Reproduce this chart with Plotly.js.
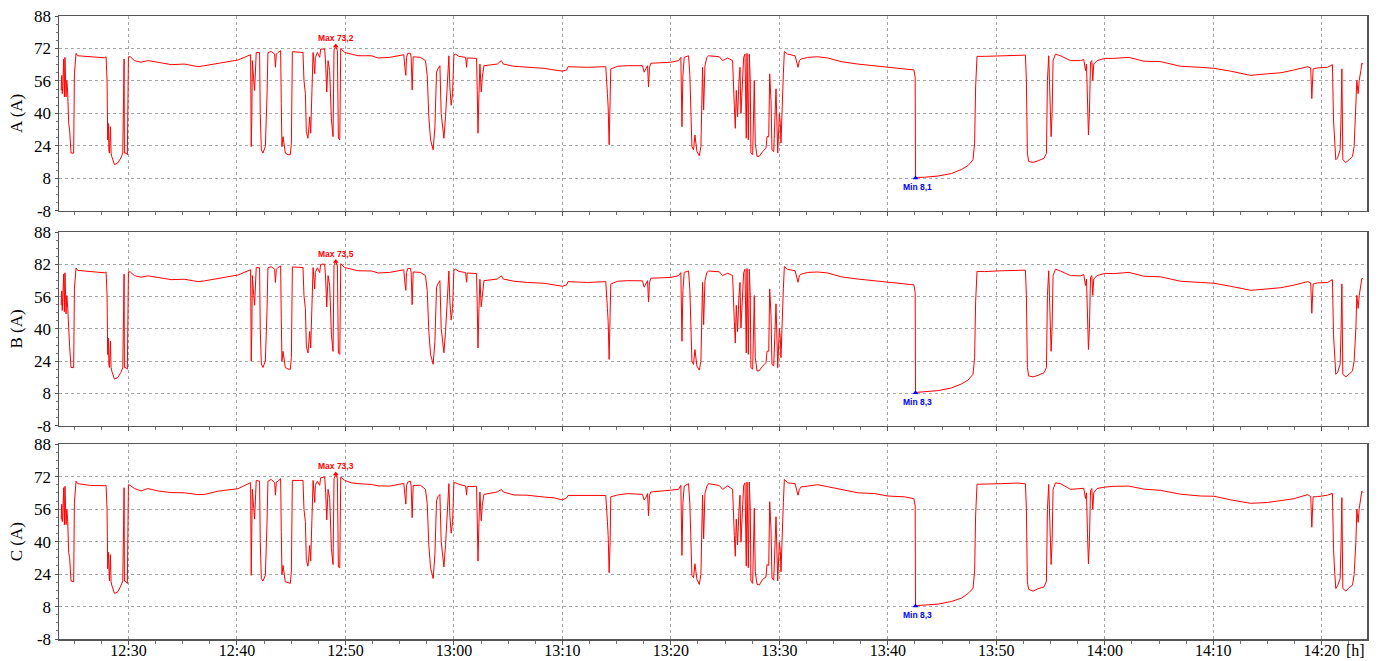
<!DOCTYPE html>
<html><head><meta charset="utf-8">
<script src="https://cdn.plot.ly/plotly-3.0.1.min.js"></script>
<style>html,body{margin:0;padding:0;background:#fff}#chart{width:1383px;height:661px}</style>
</head><body><div id="chart"></div>
<script>
// time of each sample, minutes after 12:00
const minutesAfterNoon = [
23.80,23.85,23.90,23.95,24.03,24.10,24.15,24.25,24.32,24.40,
24.49,24.58,24.71,24.95,25.02,25.17,25.32,26.50,27.78,27.94,
28.03,28.09,28.15,28.20,28.25,28.30,28.34,28.40,28.46,28.71,
29.02,29.30,29.48,29.55,29.60,29.63,29.78,29.90,29.96,30.00,
30.18,30.55,31.17,31.78,32.71,33.94,35.17,36.40,37.02,38.25,
40.09,41.26,41.32,41.38,41.42,41.55,41.63,41.78,42.09,42.15,
42.25,42.40,42.62,42.77,42.86,43.17,43.48,43.55,43.63,43.78,
44.03,44.09,44.15,44.25,44.34,44.46,44.71,44.92,45.02,45.11,
46.09,46.18,46.31,46.40,46.55,46.71,46.80,46.92,47.02,47.17,
47.23,47.42,47.63,47.72,48.09,48.18,48.28,48.40,48.55,48.71,
48.86,48.95,49.11,49.26,49.35,49.48,49.57,49.94,50.55,51.17,
52.40,53.02,54.09,
55.38,55.48,55.57,55.63,55.75,56.00,56.06,56.15,56.25,56.92,
57.38,57.54,57.69,57.85,58.09,58.25,58.40,58.52,58.71,58.83,
59.08,59.23,59.38,59.54,59.63,59.75,59.88,60.00,60.15,60.46,
61.08,61.17,61.23,62.09,62.15,62.22,62.31,62.40,62.52,62.62,
62.77,64.00,64.37,64.55,65.54,66.77,68.31,69.23,70.00,70.40,
70.52,72.31,74.00,74.15,74.22,74.31,74.40,74.46,75.08,76.00,
77.38,77.54,77.69,77.85,77.94,78.03,78.15,80.00,80.71,80.92,
81.02,81.11,81.23,81.63,81.75,81.85,81.94,82.09,82.22,82.40,
82.62,82.77,82.83,82.92,83.02,83.14,83.32,83.48,84.46,
84.77,85.23,85.69,85.85,85.94,86.03,86.15,86.28,86.37,86.46,
86.62,86.71,86.83,86.95,87.02,87.14,87.23,87.32,87.38,87.54,
87.69,87.78,87.94,88.15,88.46,88.77,88.86,89.02,89.11,89.23,
89.32,89.48,89.69,89.78,89.85,90.00,90.09,90.15,90.25,90.37,
90.46,90.77,91.45,91.63,91.72,91.85,92.00,92.62,93.54,94.46,
95.69,97.23,98.77,100.00,101.54,102.40,102.52,102.55,102.77,103.38,
104.62,105.85,106.77,107.38,107.85,108.00,108.09,108.22,108.92,110.46,
112.00,112.68,112.77,112.86,112.98,113.38,113.85,114.40,114.62,114.71,
114.83,114.92,115.05,115.14,115.23,115.45,115.91,116.83,117.75,118.06,
118.22,118.31,118.40,118.49,118.58,118.68,118.80,118.89,118.98,119.29,
120.00,120.83,122.22,123.60,125.14,126.98,128.83,130.06,131.60,133.45,
134.98,136.22,137.45,138.68,138.98,139.08,139.20,139.60,140.52,140.98,
141.08,141.20,141.29,141.45,141.69,141.78,141.85,141.94,142.22,142.52,
142.83,142.98,143.14,143.23,143.35,143.45,143.60,143.69,143.82
];

const phaseA = [
51.3,58.7,49.7,53.8,66.8,48.1,67.6,48.1,56.2,50.5,
35.0,31.8,20.4,20.4,59.5,69.6,68.4,67.9,67.4,67.9,
56.2,26.9,35.0,22.0,20.4,28.5,33.4,20.4,18.8,14.7,
15.5,18.0,20.4,48.1,66.8,20.4,20.4,19.6,39.9,67.9,
67.9,66.0,65.2,66.0,65.2,64.0,64.3,63.0,63.5,64.7,
66.3,68.9,23.6,39.9,66.0,56.2,51.3,70.0,70.0,39.9,
22.0,20.4,23.6,48.1,70.0,70.5,69.2,62.7,69.2,70.0,
70.9,44.8,23.6,28.5,25.3,20.4,19.6,19.6,25.3,70.4,
70.0,56.2,49.7,31.0,27.7,38.3,30.2,54.6,70.0,59.5,
67.6,70.0,67.6,71.7,71.7,64.3,50.5,66.0,61.1,36.7,
28.5,71.2,73.2,70.9,27.7,26.9,72.0,70.0,69.2,68.4,
68.4,67.3,67.6,
68.9,62.7,58.7,67.6,69.6,69.6,67.6,51.6,67.9,67.6,
66.0,58.7,38.3,26.9,22.0,33.4,60.3,61.9,63.5,39.9,
27.7,38.3,56.2,68.4,53.0,44.0,49.7,68.9,69.2,68.1,
67.6,62.7,67.3,67.1,51.3,30.2,49.7,64.3,50.5,57.8,
63.5,64.3,66.0,64.3,63.2,62.7,62.2,61.4,60.8,61.4,
63.0,62.7,63.0,49.7,43.2,24.5,39.9,61.9,63.2,63.5,
63.5,60.3,61.9,63.5,53.0,62.7,64.7,65.2,66.0,67.6,
33.4,58.7,67.6,68.4,58.7,39.9,23.6,22.0,29.3,21.2,
19.1,23.6,36.7,62.7,41.6,63.5,67.6,68.4,67.9,
66.0,67.3,66.0,43.2,32.6,51.3,38.3,56.2,62.7,39.9,
62.7,67.6,69.2,27.7,69.6,26.9,69.2,56.2,20.4,19.6,
56.2,25.3,18.8,18.8,21.2,22.8,28.5,28.5,59.5,46.4,
22.0,21.2,52.1,35.0,20.4,39.9,35.0,25.3,45.6,59.5,
70.5,69.2,68.4,64.3,62.7,66.0,66.8,67.6,67.9,67.3,
65.5,64.3,63.5,62.7,61.9,61.4,57.8,8.1,8.4,8.5,
9.1,10.3,12.3,14.2,17.1,25.3,53.0,68.1,68.1,68.4,
68.7,68.7,56.2,20.4,16.3,15.8,16.6,17.9,20.4,56.2,
68.4,44.8,28.5,39.9,66.0,69.2,68.4,66.0,66.0,66.5,
61.1,64.3,44.0,29.3,39.9,65.2,66.0,56.2,64.3,66.0,
67.1,67.1,67.6,65.7,65.5,63.2,62.7,62.2,60.8,58.7,
59.5,60.0,61.4,63.0,62.4,47.3,61.9,62.4,62.7,64.0,
36.7,23.6,17.1,18.0,22.0,39.9,61.9,17.1,15.8,17.1,
18.8,23.6,39.9,56.2,49.7,56.2,61.1,64.7,64.3
];

const phaseB = [
51.8,58.9,49.2,54.1,67.3,48.6,67.9,47.5,56.6,50.9,
35.4,31.2,20.9,20.8,59.9,70.3,69.1,68.4,67.9,68.3,
56.8,27.3,35.5,22.4,20.9,28.9,33.9,20.8,19.2,15.1,
15.9,18.4,20.8,48.5,67.2,20.9,20.7,20.1,40.3,68.4,
68.3,66.5,65.7,66.4,65.6,64.5,64.7,63.5,63.9,65.1,
66.8,69.4,24.1,40.4,66.5,56.7,51.8,70.5,70.4,40.3,
22.5,20.9,24.1,48.6,70.4,70.9,69.7,63.1,69.6,70.4,
71.3,45.2,24.0,28.9,25.8,20.9,20.1,20.0,25.8,70.8,
70.5,56.6,50.1,31.5,28.1,38.8,30.6,55.1,70.5,59.9,
68.1,70.4,68.0,72.1,72.2,64.8,50.9,66.5,61.6,37.1,
28.9,71.7,73.5,71.3,28.1,27.4,72.4,70.5,69.6,68.9,
68.8,67.8,68.1,
69.4,63.1,59.2,68.0,70.1,70.0,68.1,52.1,68.3,68.1,
66.5,59.1,38.8,27.3,22.5,33.8,60.8,62.3,64.0,40.3,
28.2,38.7,56.7,68.8,53.5,44.4,50.2,69.3,69.7,68.6,
68.0,63.2,67.8,67.5,51.8,30.6,50.2,64.7,51.0,58.2,
64.0,64.8,66.4,64.8,63.7,63.1,62.7,61.9,61.2,61.9,
63.5,63.1,63.5,50.1,43.7,24.9,40.4,62.3,63.7,64.0,
63.9,60.8,62.3,64.0,53.5,63.1,65.2,65.6,66.5,68.0,
33.9,59.1,68.1,68.8,59.2,40.3,24.1,22.4,29.8,21.6,
19.6,24.0,37.2,63.1,42.1,63.9,68.1,68.8,68.4,
66.5,67.7,66.5,43.7,33.0,51.8,38.7,56.7,63.1,40.4,
63.2,68.0,69.7,28.1,70.0,27.4,69.6,56.7,20.8,20.1,
56.6,25.8,19.2,19.3,21.6,23.3,28.9,29.0,59.9,46.9,
22.4,21.7,52.5,35.5,20.8,40.4,35.4,25.8,46.0,60.0,
71.0,69.6,68.9,64.7,63.2,66.5,67.2,68.1,68.3,67.8,
65.9,64.8,63.9,63.2,62.3,61.9,58.2,8.3,8.6,8.8,
9.4,10.7,12.7,14.6,17.5,25.8,53.5,68.6,68.5,68.9,
69.1,69.2,56.7,20.8,16.7,16.2,17.0,18.3,20.9,56.7,
68.9,45.3,28.9,40.4,66.5,69.7,68.8,66.5,66.4,67.0,
61.6,64.7,44.5,29.8,40.3,65.7,66.5,56.7,64.8,66.5,
67.6,67.5,68.1,66.2,65.9,63.7,63.1,62.7,61.2,59.2,
59.9,60.5,61.8,63.5,62.9,47.8,62.3,62.9,63.1,64.5,
37.2,24.0,17.5,18.4,22.5,40.3,62.4,17.5,16.2,17.6,
19.2,24.1,40.3,56.7,50.2,56.6,61.6,65.1,64.8
];

const phaseC = [
51.0,58.4,49.9,53.5,66.6,48.3,67.3,48.4,55.9,50.7,
34.7,32.1,20.6,20.2,59.2,69.8,68.6,67.7,67.6,67.7,
56.0,26.6,34.8,21.8,20.6,28.3,33.6,20.2,18.6,14.5,
15.3,18.2,20.6,47.9,66.6,20.6,20.2,19.4,39.7,68.1,
67.7,66.2,65.0,66.2,65.0,64.2,64.1,63.2,63.3,64.9,
66.1,69.1,23.4,40.1,65.8,56.4,51.1,70.2,69.8,40.1,
21.8,20.6,23.4,48.3,69.8,70.7,69.0,62.9,69.4,69.8,
71.1,44.6,23.8,28.3,25.5,20.2,19.8,19.4,25.5,70.2,
70.2,56.0,49.9,30.8,27.9,38.1,30.4,54.4,70.2,59.3,
67.8,69.8,67.8,71.5,71.9,64.1,50.7,65.8,61.3,36.5,
28.7,71.0,73.3,71.1,27.5,27.1,71.8,70.2,69.0,68.6,
68.2,67.5,67.4,
68.7,62.9,58.5,67.8,69.4,69.8,67.4,51.8,67.7,67.8,
65.8,58.9,38.1,27.1,21.8,33.6,60.1,62.1,63.3,40.1,
27.5,38.5,56.0,68.6,52.8,44.2,49.5,69.1,69.0,68.3,
67.4,62.9,67.1,67.3,51.1,30.4,49.5,64.5,50.3,58.0,
63.3,64.5,65.8,64.5,63.0,62.9,62.0,61.6,60.6,61.6,
62.8,62.9,62.8,49.9,43.0,24.7,39.7,62.1,63.0,63.7,
63.3,60.5,61.7,63.7,52.8,62.9,64.5,65.4,65.8,67.8,
33.2,58.9,67.4,68.6,58.5,40.1,23.4,22.2,29.1,21.4,
18.9,23.8,36.5,62.9,41.4,63.7,67.4,68.6,67.7,
65.8,67.5,65.8,43.0,32.8,51.1,38.5,56.0,62.9,39.7,
62.5,67.8,69.0,27.9,69.4,27.1,69.4,56.0,20.6,19.4,
56.4,25.1,19.0,18.6,21.4,22.6,28.7,28.3,59.7,46.2,
22.2,21.0,52.3,34.8,20.6,39.7,35.2,25.1,45.8,59.3,
70.7,69.0,68.6,64.1,62.9,65.8,67.0,67.4,68.1,67.1,
65.7,64.1,63.7,62.5,62.1,61.2,57.6,8.3,8.5,8.7,
9.2,10.5,12.1,14.4,16.9,25.5,52.8,68.3,68.3,68.6,
68.9,68.5,56.4,20.2,16.5,15.6,16.8,17.7,20.6,56.0,
68.2,44.6,28.7,39.7,65.8,69.0,68.6,65.8,66.2,66.3,
61.3,64.1,44.2,29.1,40.1,65.0,66.2,56.0,64.1,66.2,
66.9,67.3,67.4,65.9,65.3,63.4,62.5,62.4,60.6,58.9,
59.3,60.2,61.2,63.2,62.2,47.1,62.1,62.2,62.9,63.8,
36.5,23.8,16.9,18.2,21.8,40.1,61.7,16.9,15.6,17.3,
18.6,23.8,39.7,56.0,49.5,56.4,60.9,64.9,64.1
];

const panelTitles = ['A (A)', 'B (A)', 'C (A)'];
const yTickVals = [-8, 8, 24, 40, 56, 72, 88];
const yTickTextA = ['-8', '8', '24', '40', '56', '72', '88'];
const yTickTextB = ['-8', '8', '24', '40', '56', '82', '88'];
const yTickTextC = ['-8', '8', '24', '40', '56', '72', '88'];
const xStart = '2024-01-01 12:23:36';
const xEnd = '2024-01-01 14:24:10';

function pad(n, w) { return String(n).padStart(w || 2, '0'); }
function stamp(m) {
  const ms = Math.round(m * 60000);
  const h = 12 + Math.floor(ms / 3600000);
  const mi = Math.floor((ms % 3600000) / 60000);
  const s = Math.floor((ms % 60000) / 1000);
  const r = ms % 1000;
  return `2024-01-01 ${pad(h)}:${pad(mi)}:${pad(s)}.${pad(r, 3)}`;
}
const times = minutesAfterNoon.map(stamp);
const series = [phaseA, phaseB, phaseC];
const tickTexts = [yTickTextA, yTickTextB, yTickTextC];
const domains = [[0.6875, 1.0], [0.3424, 0.6528], [0, 0.3125]];
const serif = 'Liberation Serif';
const sans = 'Liberation Sans';
const fmt = v => v.toFixed(1).replace('.', ',');

const traces = [];
const annotations = [];
const layout = {
  width: 1383, height: 661,
  margin: {l: 59, r: 16, t: 16, b: 22},
  paper_bgcolor: '#ffffff', plot_bgcolor: '#ffffff',
  showlegend: false,
  font: {family: serif, size: 16, color: '#000'}
};

series.forEach((vals, i) => {
  const n = i + 1;
  const xa = n === 1 ? 'x' : 'x' + n;
  const ya = n === 1 ? 'y' : 'y' + n;
  traces.push({
    x: times, y: vals, xaxis: xa, yaxis: ya, type: 'scatter', mode: 'lines',
    line: {color: '#ff0000', width: 1}, hoverinfo: 'skip'
  });
  let iMax = 0, iMin = 0;
  vals.forEach((v, k) => { if (v > vals[iMax]) iMax = k; if (v < vals[iMin]) iMin = k; });
  traces.push({
    x: [times[iMax]], y: [vals[iMax]], xaxis: xa, yaxis: ya, type: 'scatter', mode: 'markers',
    marker: {symbol: 'triangle-up', size: 5, color: '#ff0000'}, hoverinfo: 'skip'
  });
  traces.push({
    x: [times[iMin]], y: [vals[iMin]], xaxis: xa, yaxis: ya, type: 'scatter', mode: 'markers',
    marker: {symbol: 'triangle-up', size: 5, color: '#0000ff'}, hoverinfo: 'skip'
  });
  annotations.push({
    xref: xa, yref: ya, x: times[iMax], y: vals[iMax], yshift: 8, showarrow: false,
    text: '<b>Max ' + fmt(vals[iMax]) + '</b>', font: {family: sans, size: 8.5, color: '#ff0000'},
    xanchor: 'center', yanchor: 'middle'
  });
  annotations.push({
    xref: xa, yref: ya, x: times[iMin], y: vals[iMin], yshift: -9, xshift: 2, showarrow: false,
    text: '<b>Min ' + fmt(vals[iMin]) + '</b>', font: {family: sans, size: 8.5, color: '#0000ff'},
    xanchor: 'center', yanchor: 'middle'
  });

  layout['xaxis' + (n === 1 ? '' : n)] = {
    type: 'date', range: [xStart, xEnd], anchor: ya,
    tick0: '2024-01-01 12:00:00', dtick: 600000, tickformat: '%H:%M',
    showticklabels: n === 3, ticks: 'outside', ticklen: 4, tickcolor: '#555',
    ticklabelstandoff: -8,
    tickfont: {family: serif, size: 16, color: '#000'},
    showgrid: true, gridcolor: '#a6a6a6', gridwidth: 1, griddash: '3px,3px',
    minor: {dtick: 150000, tick0: '2024-01-01 12:00:00', ticks: 'outside', ticklen: 3, tickcolor: '#777', showgrid: false},
    showline: true, linecolor: '#555', linewidth: 1.5, mirror: true,
    zeroline: false, fixedrange: true
  };
  layout['yaxis' + (n === 1 ? '' : n)] = {
    domain: domains[i], anchor: xa, range: [-8, 88],
    tickmode: 'array', tickvals: yTickVals, ticktext: tickTexts[i],
    ticks: 'outside', ticklen: 3, tickcolor: '#555',
    tickfont: {family: serif, size: 17, color: '#000'},
    minor: {dtick: 4, tick0: 0, ticks: 'outside', ticklen: 2, tickcolor: '#777', showgrid: false},
    showgrid: true, gridcolor: '#a6a6a6', gridwidth: 1, griddash: '3px,3px',
    showline: true, linecolor: '#555', linewidth: 1.5, mirror: true,
    zeroline: false, fixedrange: true,
    title: {text: panelTitles[i], font: {family: serif, size: 17, color: '#000'}, standoff: 7}
  };
});

annotations.push({
  xref: 'paper', yref: 'paper', x: 1, y: -0.019, xanchor: 'right', yanchor: 'middle',
  showarrow: false, text: '[h]', font: {family: serif, size: 16, color: '#000'}
});
layout.annotations = annotations;

Plotly.newPlot('chart', traces, layout, {displayModeBar: false, staticPlot: true});
</script>
</body></html>
